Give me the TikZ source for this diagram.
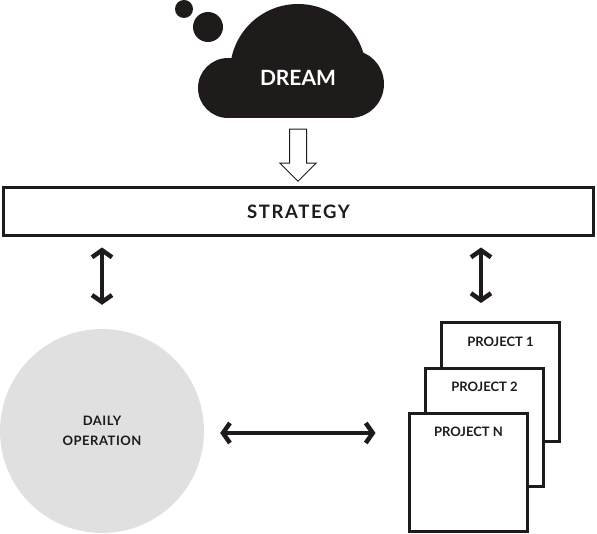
\documentclass[tikz,border=0pt]{standalone}
\usepackage{fontspec}
\setmainfont{Lato}
\newfontfamily\widelato[LetterSpace=9]{Lato}
\newfontfamily\semiwidelato[LetterSpace=4]{Lato}
\usetikzlibrary{arrows.meta}
\usetikzlibrary{positioning}
\usetikzlibrary{shapes.arrows}
\definecolor{dr-ink}{HTML}{1F1B1A}
\definecolor{dr-grey}{HTML}{E0E0E0}

\begin{document}
\begin{tikzpicture}[
    x=1pt, y=-1pt,
    % boxes and sheets
    frame/.style={draw=dr-ink, line width=3pt, fill=white, inner sep=0pt},
    sheet/.style={frame, minimum size=118pt},
    sheetlabel/.style={font=\fontsize{13}{15}\selectfont\bfseries, text=dr-ink, inner sep=0pt},
    % connectors
    twoway/.style={{Straight Barb[length=7pt,width=20pt]}-{Straight Barb[length=7pt,width=20pt]}, line width=4.5pt, dr-ink},
    hollow/.style={single arrow, draw=dr-ink, fill=white, line width=1pt, minimum height=52pt, minimum width=35pt,
                   single arrow head extend=9.5pt, inner xsep=0pt, inner ysep=8pt, rotate=-90}
  ]
  \useasboundingbox (0,0) rectangle (597,534);

  % =========================================================================
  % DREAM CLOUD
  % =========================================================================
  \fill[dr-ink] (184,9) circle (9);
  \fill[dr-ink] (208,27) circle (15);
  \begin{scope}
    \clip (150,0) rectangle (400,118);
    \fill[dr-ink] (228,88) circle (30);
    \fill[dr-ink] (298,72) circle (68);
    \fill[dr-ink] (350,84) circle (34);
    \fill[dr-ink] (228,84) rectangle (350,118);
  \end{scope}
  \node[text=white, font=\fontsize{21}{24}\selectfont\bfseries] (dream) at (298,77.5) {DREAM};

  % =========================================================================
  % STRATEGY BAR
  % =========================================================================
  \node[hollow] (push) at (298,151) {};
  \node[frame, text=dr-ink, font=\widelato\fontsize{18.5}{22}\selectfont\bfseries,
        minimum width=590pt, minimum height=48pt] (strategy) at (298.5,211.5) {STRATEGY};

  % =========================================================================
  % DAILY OPERATION AND PROJECTS
  % =========================================================================
  \node[circle, fill=dr-grey, minimum size=204pt, align=center, text=dr-ink,
        font=\semiwidelato\fontsize{13}{20.5}\selectfont\bfseries] (daily) at (102,431) {DAILY\\OPERATION};

  \node[sheet] (p1) at (500.5,382) {};
  \node[sheetlabel, below=15pt of p1.north] (l1) {PROJECT 1};
  \node[sheet] (p2) at (484.5,427.5) {};
  \node[sheetlabel, below=15pt of p2.north] (l2) {PROJECT 2};
  \node[sheet] (pn) at (468.5,472.5) {};
  \node[sheetlabel, below=15pt of pn.north] (ln) {PROJECT N};

  % Flow arrows
  \draw[twoway] ([yshift=-10.5pt]strategy.south -| daily.north) -- ([yshift=24pt]daily.north);
  \draw[twoway] ([xshift=-19.5pt,yshift=-10.5pt]strategy.south -| p1.north) -- ([xshift=-19.5pt,yshift=18.5pt]p1.north);
  \draw[twoway] ([xshift=16pt,yshift=-2pt]daily.east) -- ([xshift=-32.5pt,yshift=-2pt]daily.east -| pn.west);

\end{tikzpicture}
\end{document}
